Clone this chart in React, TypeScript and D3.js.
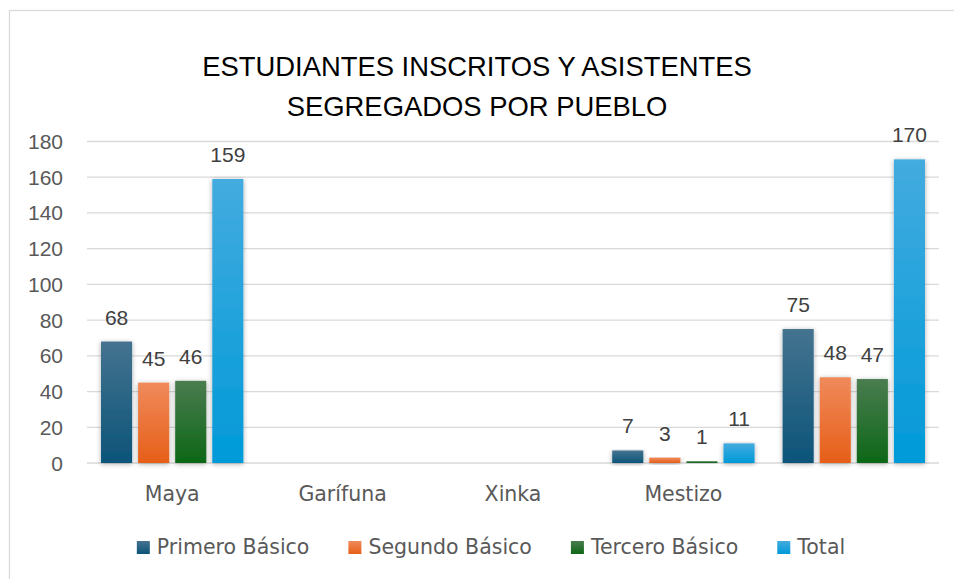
import React, { useEffect, useRef } from "react";
import * as d3 from "d3";

const categories = ["Maya", "Garífuna", "Xinka", "Mestizo", ""];
const seriesNames = ["Primero Básico", "Segundo Básico", "Tercero Básico", "Total"];
const primero: (number | null)[] = [68, null, null, 7, 75];
const segundo: (number | null)[] = [45, null, null, 3, 48];
const tercero: (number | null)[] = [46, null, null, 1, 47];
const total: (number | null)[] = [159, null, null, 11, 170];
const yTicks = [0, 20, 40, 60, 80, 100, 120, 140, 160, 180];
const titleLines = ["ESTUDIANTES INSCRITOS Y ASISTENTES", "SEGREGADOS POR PUEBLO"];

const seriesValues = [primero, segundo, tercero, total];
const colors = [
  { top: "#44738f", bottom: "#0c5479" },
  { top: "#f08a5b", bottom: "#e65f18" },
  { top: "#4a7c50", bottom: "#0d6717" },
  { top: "#43abdf", bottom: "#009ad8" },
];

const W = 954;
const H = 579;
const FONT = "'Liberation Sans', Arial, sans-serif";
const FONT2 = "'DejaVu Sans', 'Liberation Sans', sans-serif";

export default function App() {
  const ref = useRef<SVGSVGElement | null>(null);

  useEffect(() => {
    const svg = d3.select(ref.current);
    svg.selectAll("*").remove();

    const defs = svg.append("defs");
    colors.forEach((c, i) => {
      const g = defs
        .append("linearGradient")
        .attr("id", `grad${i}`)
        .attr("x1", 0)
        .attr("y1", 0)
        .attr("x2", 0)
        .attr("y2", 1);
      g.append("stop").attr("offset", "0%").attr("stop-color", c.top);
      g.append("stop").attr("offset", "100%").attr("stop-color", c.bottom);
    });
    const f = defs
      .append("filter")
      .attr("id", "shadow")
      .attr("x", "-40%")
      .attr("y", "-10%")
      .attr("width", "180%")
      .attr("height", "130%");
    f.append("feDropShadow")
      .attr("dx", 0)
      .attr("dy", 1)
      .attr("stdDeviation", 2.4)
      .attr("flood-color", "#000")
      .attr("flood-opacity", 0.33);

    svg.append("rect").attr("width", W).attr("height", H).attr("fill", "#ffffff");
    svg
      .append("rect")
      .attr("x", 9.5)
      .attr("y", 10.5)
      .attr("width", W + 20)
      .attr("height", H + 20)
      .attr("fill", "#ffffff")
      .attr("stroke", "#d9d9d9")
      .attr("stroke-width", 1.3);

    const plotLeft = 87;
    const plotRight = 939;
    const y = d3.scaleLinear().domain([0, 180]).range([463, 141.5]);
    const x0 = d3
      .scaleBand<string>()
      .domain(categories.map((c, i) => String(i)))
      .range([plotLeft, plotRight])
      .padding(0);
    const x1 = d3
      .scaleBand<string>()
      .domain(seriesNames)
      .range([0, x0.bandwidth()])
      .paddingInner(6 / 37)
      .paddingOuter(0.378);

    // title
    titleLines.forEach((t, i) => {
      svg
        .append("text")
        .attr("x", 477)
        .attr("y", 76 + i * 40)
        .attr("text-anchor", "middle")
        .attr("font-family", FONT)
        .attr("font-size", 27.4)
        .attr("fill", "#000000")
        .text(t);
    });

    // gridlines
    svg
      .append("g")
      .selectAll("line")
      .data(yTicks)
      .join("line")
      .attr("x1", plotLeft)
      .attr("x2", plotRight)
      .attr("y1", (d) => y(d))
      .attr("y2", (d) => y(d))
      .attr("stroke", "#d9d9d9")
      .attr("stroke-width", 1.3);

    // y tick labels
    svg
      .append("g")
      .selectAll("text")
      .data(yTicks)
      .join("text")
      .attr("x", 63)
      .attr("y", (d) => y(d) + 7.5)
      .attr("text-anchor", "end")
      .attr("font-family", FONT)
      .attr("font-size", 21)
      .attr("fill", "#595959")
      .text((d) => String(d));

    // category labels
    svg
      .append("g")
      .selectAll("text")
      .data(categories)
      .join("text")
      .attr("x", (d, i) => (x0(String(i)) as number) + x0.bandwidth() / 2)
      .attr("y", 501)
      .attr("text-anchor", "middle")
      .attr("font-family", FONT2)
      .attr("font-size", 20.5)
      .attr("fill", "#595959")
      .text((d) => d);

    // bars
    seriesValues.forEach((vals, si) => {
      const name = seriesNames[si];
      const data = vals
        .map((v, ci) => ({ v, ci }))
        .filter((d) => d.v !== null && d.v !== undefined) as { v: number; ci: number }[];
      const g = svg.append("g");
      g.selectAll("rect")
        .data(data)
        .join("rect")
        .attr("x", (d) => (x0(String(d.ci)) as number) + (x1(name) as number))
        .attr("y", (d) => y(d.v))
        .attr("width", x1.bandwidth())
        .attr("height", (d) => y(0) - y(d.v))
        .attr("fill", `url(#grad${si})`)
        .attr("filter", "url(#shadow)");
      g.selectAll("text")
        .data(data)
        .join("text")
        .attr("x", (d) => (x0(String(d.ci)) as number) + (x1(name) as number) + x1.bandwidth() / 2)
        .attr("y", (d) => y(d.v) - 17)
        .attr("text-anchor", "middle")
        .attr("font-family", FONT)
        .attr("font-size", 21)
        .attr("fill", "#404040")
        .text((d) => String(d.v));
    });

    // legend
    const lg = svg.append("g");
    const items = seriesNames.map((n, i) => {
      const gi = lg.append("g");
      gi.append("rect")
        .attr("width", 13)
        .attr("height", 13)
        .attr("y", -13)
        .attr("fill", `url(#grad${i})`);
      const t = gi
        .append("text")
        .attr("x", 20)
        .attr("y", 0)
        .attr("font-family", FONT2)
        .attr("font-size", 20.5)
        .attr("fill", "#595959")
        .text(n);
      const w = (t.node() as SVGTextElement).getComputedTextLength();
      return { gi, w: 20 + w };
    });
    const gap = 39;
    const totalW = d3.sum(items, (d) => d.w) + gap * (items.length - 1);
    let cx = 491 - totalW / 2;
    items.forEach((it) => {
      it.gi.attr("transform", `translate(${cx},554)`);
      cx += it.w + gap;
    });
  }, []);

  return (
    <svg
      ref={ref}
      width={W}
      height={H}
      style={{ position: "absolute", left: 0, top: 0, display: "block" }}
    />
  );
}
